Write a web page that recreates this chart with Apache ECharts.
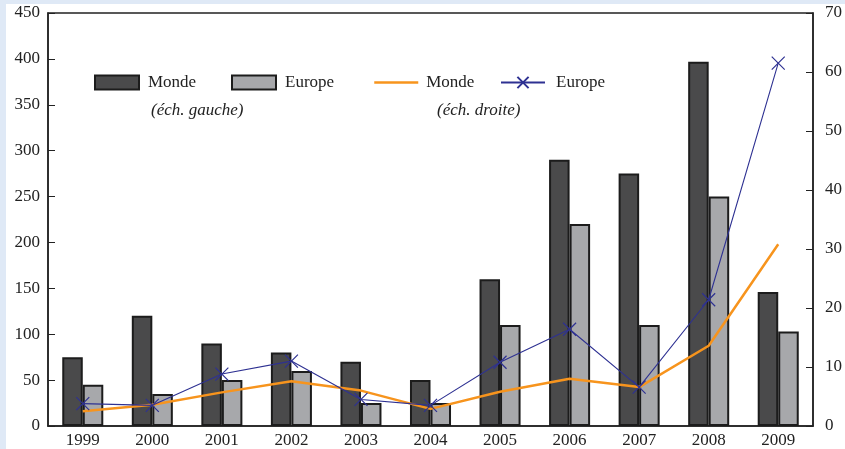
<!DOCTYPE html>
<html>
<head>
<meta charset="utf-8">
<script src="https://cdn.jsdelivr.net/npm/echarts@6/dist/echarts.min.js"></script>
<style>
  html, body { margin: 0; padding: 0; }
  #chart { width: 845px; height: 449px; }
</style>
</head>
<body>
<div id="chart"></div>
<script>
// données
const years = ['1999', '2000', '2001', '2002', '2003', '2004', '2005', '2006', '2007', '2008', '2009']
const mondeBars = [75, 120, 90, 80, 70, 50, 160, 290, 275, 397, 146] // éch. gauche
const europeBars = [45, 35, 50, 60, 25, 25, 110, 220, 110, 250, 103]
const mondeLine = [2.5, 3.6, 5.7, 7.6, 6.0, 2.9, 5.8, 8.0, 6.6, 13.6, 30.8] // éch. droite
const europeLine = [3.8, 3.5, 8.8, 11.0, 4.5, 3.5, 10.8, 16.4, 6.6, 21.4, 61.5]

const font = 'Liberation Serif'
const labelNames = { 'Monde': 'Monde', 'Europe': 'Europe', 'MondeD': 'Monde', 'EuropeD': 'Europe' }
const cross = 'path://M0,0L10,10M10,0L0,10'

function legendAt(item, left, gap) {
	return {
		data: [item],
		left: left,
		top: 74,
		itemWidth: 44,
		itemHeight: 14,
		itemGap: 0,
		padding: 0,
		selectedMode: false,
		formatter: (n) => labelNames[n],
		textStyle: { fontFamily: font, fontSize: 17, color: '#222', padding: [0, 0, 0, gap] }
	}
}

const chart = echarts.init(document.getElementById('chart'))
const option = {
	backgroundColor: '#dfe9f6',
	animation: false,
	grid: { left: 48, right: 32, top: 13, bottom: 23, show: true, borderColor: '#222', borderWidth: 1.5, backgroundColor: 'transparent' },
	graphic: [
		{ type: 'rect', left: 6, top: 4, z: -100, shape: { width: 845, height: 449 }, style: { fill: '#ffffff' } },
		{ type: 'text', left: 151, top: 102, style: { text: '(éch. gauche)', font: 'italic 17px "Liberation Serif"', fill: '#222' } },
		{ type: 'text', left: 437, top: 102, style: { text: '(éch. droite)', font: 'italic 17px "Liberation Serif"', fill: '#222' } }
	],
	legend: [
		legendAt({ name: 'Monde', icon: 'rect' }, 94, 4),
		legendAt({ name: 'Europe', icon: 'rect' }, 231, 4),
		legendAt({ name: 'MondeD', itemStyle: { opacity: 0 }, lineStyle: { width: 2.5 } }, 373, 3),
		legendAt({ name: 'EuropeD' }, 500, 6)
	],
	xAxis: {
		type: 'category',
		data: years,
		axisLine: { lineStyle: { color: '#222', width: 1.5 } },
		axisTick: { inside: true, length: 7, lineStyle: { color: '#222' } },
		axisLabel: { fontFamily: font, fontSize: 17, color: '#222', margin: 6 }
	},
	yAxis: [
		{
			type: 'value', min: 0, max: 450, interval: 50,
			axisLine: { show: true, lineStyle: { color: '#222', width: 1.5 } },
			axisTick: { show: true, inside: true, length: 7, lineStyle: { color: '#222' } },
			axisLabel: { fontFamily: font, fontSize: 17, color: '#222', margin: 8 },
			splitLine: { show: false }
		},
		{
			type: 'value', min: 0, max: 70, interval: 10,
			axisLine: { show: true, lineStyle: { color: '#222', width: 1.5 } },
			axisTick: { show: true, inside: true, length: 7, lineStyle: { color: '#222' } },
			axisLabel: { fontFamily: font, fontSize: 17, color: '#222', margin: 12 },
			splitLine: { show: false }
		}
	],
	series: [
		{
			name: 'Monde', type: 'bar', yAxisIndex: 0, data: mondeBars,
			barGap: '0%', barCategoryGap: '41%',
			itemStyle: { color: '#4a4a4b', borderColor: '#1c1c1c', borderWidth: 2 }
		},
		{
			name: 'Europe', type: 'bar', yAxisIndex: 0, data: europeBars,
			itemStyle: { color: '#a7a8ab', borderColor: '#1c1c1c', borderWidth: 2 }
		},
		{
			name: 'MondeD', type: 'line', yAxisIndex: 1, data: mondeLine,
			symbol: 'none', z: 3,
			lineStyle: { color: '#f7941d', width: 2.5 },
			itemStyle: { color: '#f7941d' }
		},
		{
			name: 'EuropeD', type: 'line', yAxisIndex: 1, data: europeLine,
			symbol: cross, symbolSize: 13, z: 4,
			lineStyle: { color: '#2e3192', width: 1.1 },
			itemStyle: { color: 'none', borderColor: '#2e3192', borderWidth: 1.2 }
		}
	]
}
chart.setOption(option)
</script>
</body>
</html>
